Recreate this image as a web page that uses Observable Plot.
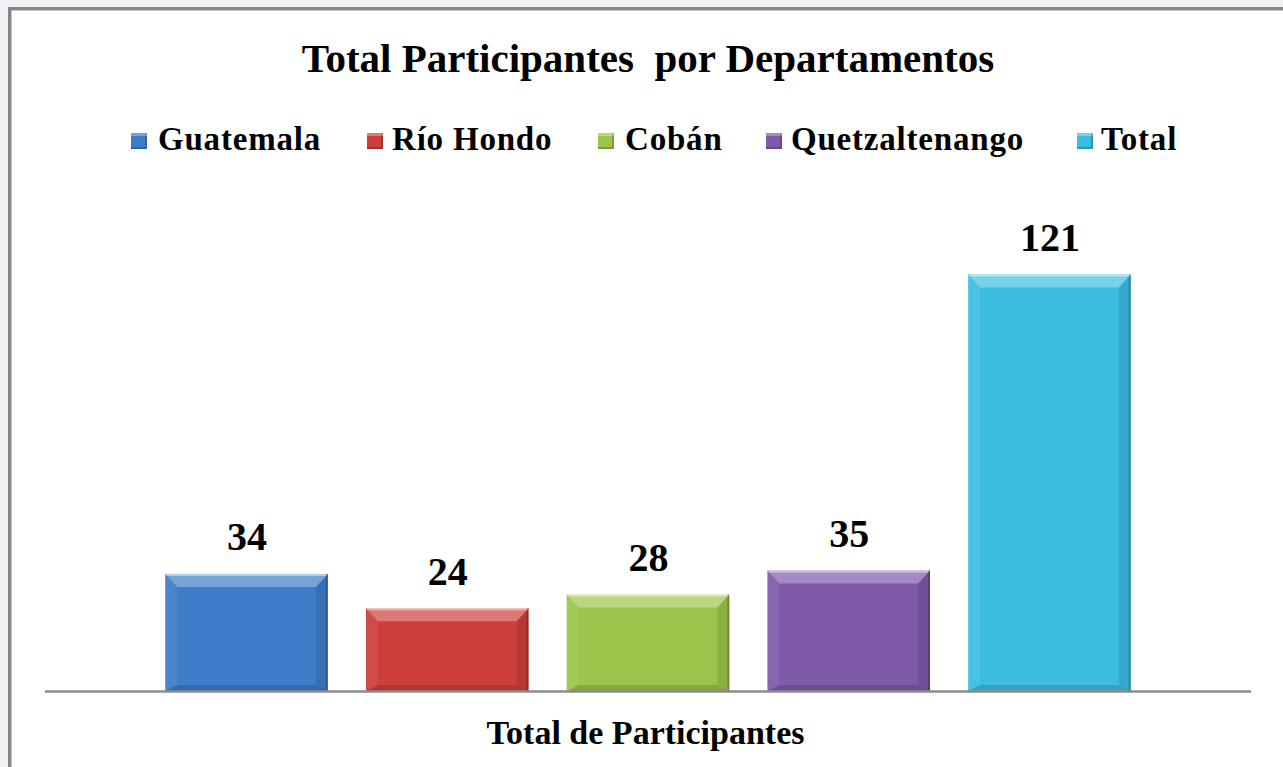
<!DOCTYPE html>
<html>
<head>
<meta charset="utf-8">
<script src="https://cdn.jsdelivr.net/npm/d3@7"></script>
<script src="https://cdn.jsdelivr.net/npm/@observablehq/plot@0.6"></script>
<style>
  html, body { margin: 0; padding: 0; width: 1283px; height: 767px; overflow: hidden; background: #eef2f6; }
  #frame { position: absolute; left: 8px; top: 7px; width: 1400px; height: 900px; background: #fff;
           border-left: 3px solid #878787; border-top: 3px solid #878787; box-shadow: inset 1px 1px 0 #c4c4c4; }
  .serif { font-family: "Liberation Serif", "Times New Roman", serif; font-weight: bold; color: #000; }
  #title { position: absolute; left: 0; width: 1296px; top: 38px; text-align: center; font-size: 41px; line-height: 41px; white-space: pre; }
  #legend { position: absolute; left: 0; top: 0; width: 1283px; height: 180px; }
  .item { position: absolute; top: 123px; font-size: 33px; line-height: 33px; letter-spacing: 0.8px; white-space: pre; }
  .sw { position: absolute; top: 133px; width: 16px; height: 16px; box-sizing: border-box;
        box-shadow: inset 0 3px 0 rgba(255,255,255,0.3), inset -2px -2px 0 rgba(0,0,0,0.2); }
  #chart { position: absolute; left: 0; top: 180px; }
</style>
</head>
<body>
<div id="frame"></div>
<div id="title" class="serif"></div>
<div id="legend"></div>
<div id="chart"></div>
<script>
// ---- data ----
const titleText = "Total Participantes  por Departamentos";
const axisLabel = "Total de Participantes";
const departamentos = ["Guatemala", "Río Hondo", "Cobán", "Quetzaltenango", "Total"];
const participantes = [34, 24, 28, 35, 121];
// ---- styles ----
const palette = ["#3d7cc9", "#cc3f3c", "#9bc44a", "#7f5aa9", "#3bbde0"];
const legendX = [[131, 158], [367, 392], [598, 625], [766, 791], [1077, 1101]];

const data = departamentos.map((name, i) => ({name, value: participantes[i]}));

document.getElementById("title").textContent = titleText;

const legend = document.getElementById("legend");
departamentos.forEach((name, i) => {
  const sw = document.createElement("div");
  sw.className = "sw";
  sw.style.left = legendX[i][0] + "px";
  sw.style.background = palette[i];
  legend.appendChild(sw);
  const t = document.createElement("div");
  t.className = "item serif";
  t.style.left = legendX[i][1] + "px";
  t.textContent = name;
  legend.appendChild(t);
});

const fontFamily = '"Liberation Serif", "Times New Roman", serif';
const pI = 0.19, pO = 0.599;

// bevel overlay drawn through the plot's own scales
function bevel(index, scales, values, dimensions) {
  const x = scales.x, y = scales.y;
  let bw;
  if (x && typeof x.bandwidth === "function") bw = x.bandwidth();
  else {
    const w = dimensions.width - dimensions.marginLeft - dimensions.marginRight;
    bw = w / (departamentos.length - pI + 2 * pO) * (1 - pI);
  }
  const g = d3.create("svg:g");
  const bt = 13, bs = 12, bb = 6;
  data.forEach(d => {
    const x0 = x(d.name), x1 = x0 + bw, yT = y(d.value), yB = y(0);
    const poly = (pts, fill) => g.append("polygon").attr("points", pts.map(p => p.join(",")).join(" ")).attr("fill", fill);
    poly([[x0, yT], [x1, yT], [x1 - bs, yT + bt], [x0 + bs, yT + bt]], "rgba(255,255,255,0.3)");
    poly([[x0, yT], [x0 + bs, yT + bt], [x0 + bs, yB - bb], [x0, yB]], "rgba(255,255,255,0.07)");
    poly([[x1, yT], [x1, yB], [x1 - bs, yB - bb], [x1 - bs, yT + bt]], "rgba(0,0,0,0.10)");
    poly([[x0, yB], [x1, yB], [x1 - bs, yB - bb], [x0 + bs, yB - bb]], "rgba(0,0,0,0.14)");
    g.append("line").attr("x1", x0 + 1).attr("x2", x1 - 1).attr("y1", yT + 1).attr("y2", yT + 1)
      .attr("stroke", "rgba(255,255,255,0.45)").attr("stroke-width", 2);
    g.append("line").attr("x1", x1 - 1).attr("x2", x1 - 1).attr("y1", yT).attr("y2", yB)
      .attr("stroke", "rgba(0,0,0,0.22)").attr("stroke-width", 2);
  });
  return g.node();
}

const chart = Plot.plot({
  width: 1283,
  height: 587,
  marginLeft: 45,
  marginRight: 32,
  marginTop: 29,
  marginBottom: 76,
  style: {background: "transparent", overflow: "visible"},
  x: {domain: departamentos, paddingInner: pI, paddingOuter: pO, round: false, axis: null},
  y: {domain: [0, 140], axis: null},
  color: {domain: departamentos, range: palette},
  marks: [
    Plot.rectY(data, {x: "name", y: "value", fill: "name"}),
    bevel,
    Plot.ruleY([0], {stroke: "#8c8c8c", strokeWidth: 2.5}),
    Plot.text(data, {x: "name", y: "value", text: d => String(d.value), lineAnchor: "bottom", dy: -24,
      fontSize: 40, fontWeight: "bold", fontFamily, fill: "#000"}),
    Plot.text([axisLabel], {text: d => d, frameAnchor: "bottom", dy: 52, dx: -3,
      fontSize: 34, fontWeight: "bold", fontFamily, fill: "#000", letterSpacing: "1.8px"})
  ]
});
document.getElementById("chart").appendChild(chart);
</script>
</body>
</html>
